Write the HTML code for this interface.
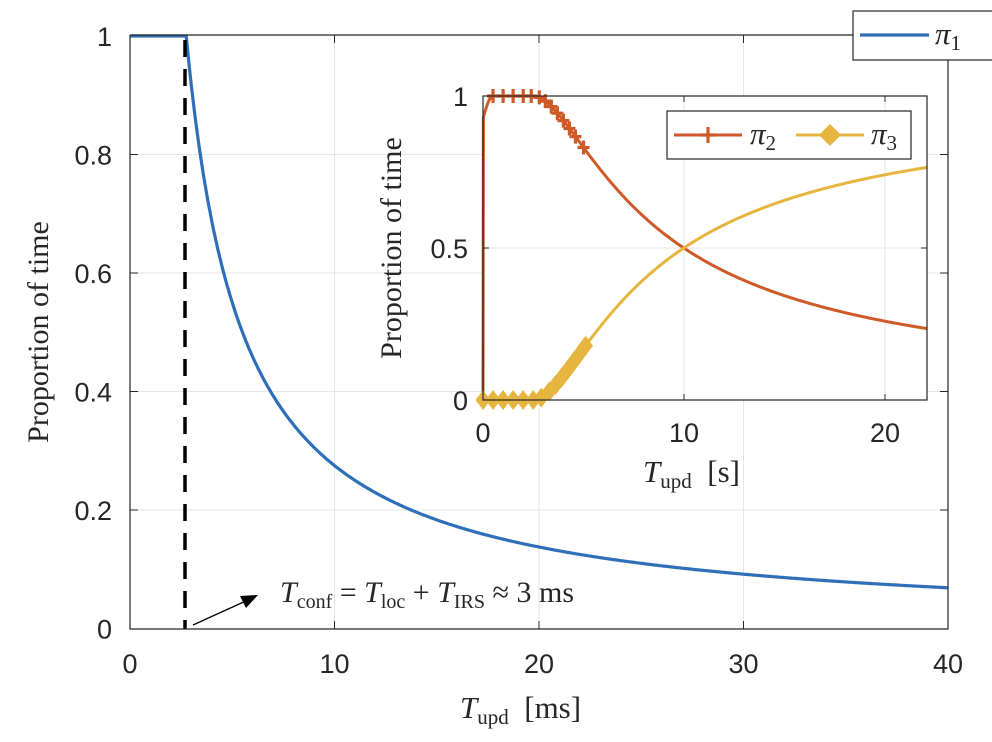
<!DOCTYPE html>
<html><head><meta charset="utf-8"><style>
html,body{margin:0;padding:0;background:#fff;}
svg{display:block;}
.tk{font-family:"Liberation Sans",sans-serif;font-size:27px;fill:#262626;}
.lx{font-family:"Liberation Serif",serif;fill:#262626;}
</style></head><body>
<svg id="s" width="992" height="742" viewBox="0 0 992 742" xmlns="http://www.w3.org/2000/svg">
<g id="g"></g>
</svg>
<script>
const NS="http://www.w3.org/2000/svg";const g=document.getElementById('g');
function el(t,a,txt){const e=document.createElementNS(NS,t);for(const k in a)e.setAttribute(k,a[k]);if(txt!==undefined)e.innerHTML=txt;g.appendChild(e);return e;}
const X=t=>130+t*20.45, Y=v=>628.5-v*592.5;
el('rect',{x:0,y:0,width:992,height:742,fill:'#fff'});
for(const t of [10,20,30]) el('line',{x1:X(t),y1:35,x2:X(t),y2:629,stroke:'#e6e6e6','stroke-width':1});
for(const v of [0.2,0.4,0.6,0.8]) el('line',{x1:130,y1:Y(v),x2:948,y2:Y(v),stroke:'#e6e6e6','stroke-width':1});
let d='';for(let i=0;i<=800;i++){const t=i*0.05;const v=Math.min(1,t<2.75?1:2.75/t);d+=(i?'L':'M')+X(t).toFixed(1)+','+Y(v).toFixed(1);}
el('path',{d:d,fill:'none',stroke:'#2f6fb9','stroke-width':3.2});
el('line',{x1:185,y1:40,x2:185,y2:629,stroke:'#000','stroke-width':3.5,'stroke-dasharray':'17 12'});
el('path',{d:'M130,35 V629 H948 V60 M130,35 H853',fill:'none',stroke:'#262626','stroke-width':1.2});
for(const t of [10,20,30]){el('line',{x1:X(t),y1:629,x2:X(t),y2:621,stroke:'#262626'});el('line',{x1:X(t),y1:35,x2:X(t),y2:43,stroke:'#262626'});}
for(const v of [0.2,0.4,0.6,0.8]){el('line',{x1:130,y1:Y(v),x2:138,y2:Y(v),stroke:'#262626'});el('line',{x1:948,y1:Y(v),x2:940,y2:Y(v),stroke:'#262626'});}
for(const t of [0,10,20,30,40]) el('text',{class:'tk',x:X(t),y:673,'text-anchor':'middle'},t);
for(const v of [0,0.2,0.4,0.6,0.8,1]) el('text',{class:'tk',x:112,y:Y(v)+10,'text-anchor':'end'},v);
el('text',{class:'lx','font-size':30,x:0,y:0,transform:'translate(48,332) rotate(-90)','text-anchor':'middle'},'Proportion of time');
el('text',{class:'lx','font-size':31,x:460,y:718},'<tspan font-style="italic">T</tspan><tspan font-size="21" dy="6">upd</tspan><tspan dy="-6"> &#160;[ms]</tspan>');
el('line',{x1:193,y1:625,x2:248,y2:600,stroke:'#000','stroke-width':1.3});
el('path',{d:'M258,595 L240,596 L246,608 Z',fill:'#000'});
el('text',{class:'lx','font-size':30,x:280,y:602},'<tspan font-style="italic">T</tspan><tspan font-size="20" dy="6">conf</tspan><tspan dy="-6"> = </tspan><tspan font-style="italic">T</tspan><tspan font-size="20" dy="6">loc</tspan><tspan dy="-6"> + </tspan><tspan font-style="italic">T</tspan><tspan font-size="20" dy="6">IRS</tspan><tspan dy="-6"> ≈ 3 ms</tspan>');
el('rect',{x:853,y:11,width:140,height:49,fill:'#fff',stroke:'#262626','stroke-width':1.2});
el('line',{x1:860,y1:35,x2:929,y2:35,stroke:'#2f6fb9','stroke-width':3.2});
el('text',{class:'lx','font-size':31,x:935,y:44,'font-style':'italic'},'π<tspan font-style="normal" font-size="21" dy="6">1</tspan>');
const x0=483,x1=927,yt=96,yb=400;
const IX=t=>x0+t*20.1, IY=v=>yb-v*(yb-yt);
el('rect',{x:x0,y:yt,width:x1-x0,height:yb-yt,fill:'#fff'});
for(const t of [10,20]) el('line',{x1:IX(t),y1:yt,x2:IX(t),y2:yb,stroke:'#e6e6e6'});
el('line',{x1:x0,y1:IY(0.5),x2:x1,y2:IY(0.5),stroke:'#e6e6e6'});
function p3(t){const s=t-2.5;if(s<=0)return 0;return s*s/(s*s+5.1*s+17.9);}
function p2(t){let r=1-p3(t);if(t<0.5){const f=t<0.02?t/0.02*0.93:0.93+0.07*Math.sin((t-0.02)/0.48*Math.PI/2);r=Math.min(r,f);}return r;}
let d2='',d3='';for(let i=0;i<=1105;i++){const t=i*0.02;d2+=(i?'L':'M')+IX(t).toFixed(1)+','+IY(p2(t)).toFixed(1);d3+=(i?'L':'M')+IX(t).toFixed(1)+','+IY(p3(t)).toFixed(1);}
el('path',{d:d2,fill:'none',stroke:'#cf5a27','stroke-width':3});
el('path',{d:d3,fill:'none',stroke:'#e6b53f','stroke-width':3});
const mk=[0.5,1,1.5,2,2.4,2.8,3.1,3.4,3.7,4,4.3,4.6,5];
for(const t of mk){const x=IX(t),y=IY(p2(t));el('path',{d:`M${x-6},${y}H${x+6}M${x},${y-7}V${y+7}`,stroke:'#cf5a27','stroke-width':3.2});}
const mk3=[0,0.5,1,1.5,2,2.5,2.9,3.3,3.6,3.9,4.2,4.5,4.8,5.1];
for(const t of mk3){const x=IX(t),y=IY(p3(t));el('path',{d:`M${x},${y-10}L${x+7.5},${y}L${x},${y+10}L${x-7.5},${y}Z`,fill:'#e6b53f'});}
el('rect',{x:x0,y:yt,width:x1-x0,height:yb-yt,fill:'none',stroke:'#262626','stroke-width':1.2});
for(const t of [10,20]){el('line',{x1:IX(t),y1:yb,x2:IX(t),y2:yb-6,stroke:'#262626'});el('line',{x1:IX(t),y1:yt,x2:IX(t),y2:yt+6,stroke:'#262626'});}
el('line',{x1:x0,y1:IY(0.5),x2:x0+6,y2:IY(0.5),stroke:'#262626'});el('line',{x1:x1,y1:IY(0.5),x2:x1-6,y2:IY(0.5),stroke:'#262626'});
for(const t of [0,10,20]) el('text',{class:'tk',x:IX(t),y:442,'text-anchor':'middle'},t);
for(const v of [0,0.5,1]) el('text',{class:'tk',x:468,y:IY(v)+10,'text-anchor':'end'},v);
el('text',{class:'lx','font-size':30,x:0,y:0,transform:'translate(401,248) rotate(-90)','text-anchor':'middle'},'Proportion of time');
el('text',{class:'lx','font-size':31,x:643,y:482},'<tspan font-style="italic">T</tspan><tspan font-size="21" dy="6">upd</tspan><tspan dy="-6"> &#160;[s]</tspan>');
el('rect',{x:667,y:111,width:244,height:48,fill:'#fff',stroke:'#262626','stroke-width':1.2});
el('line',{x1:674,y1:135,x2:742,y2:135,stroke:'#cf5a27','stroke-width':3});
el('path',{d:'M701,135H715M708,127V143',stroke:'#cf5a27','stroke-width':3.2});
el('text',{class:'lx','font-size':31,x:750,y:144,'font-style':'italic'},'π<tspan font-style="normal" font-size="21" dy="6">2</tspan>');
el('line',{x1:796,y1:135,x2:864,y2:135,stroke:'#e6b53f','stroke-width':3});
el('path',{d:'M830,124L841,135L830,146L819,135Z',fill:'#e6b53f'});
el('text',{class:'lx','font-size':31,x:871,y:144,'font-style':'italic'},'π<tspan font-style="normal" font-size="21" dy="6">3</tspan>');
</script>
</body></html>
